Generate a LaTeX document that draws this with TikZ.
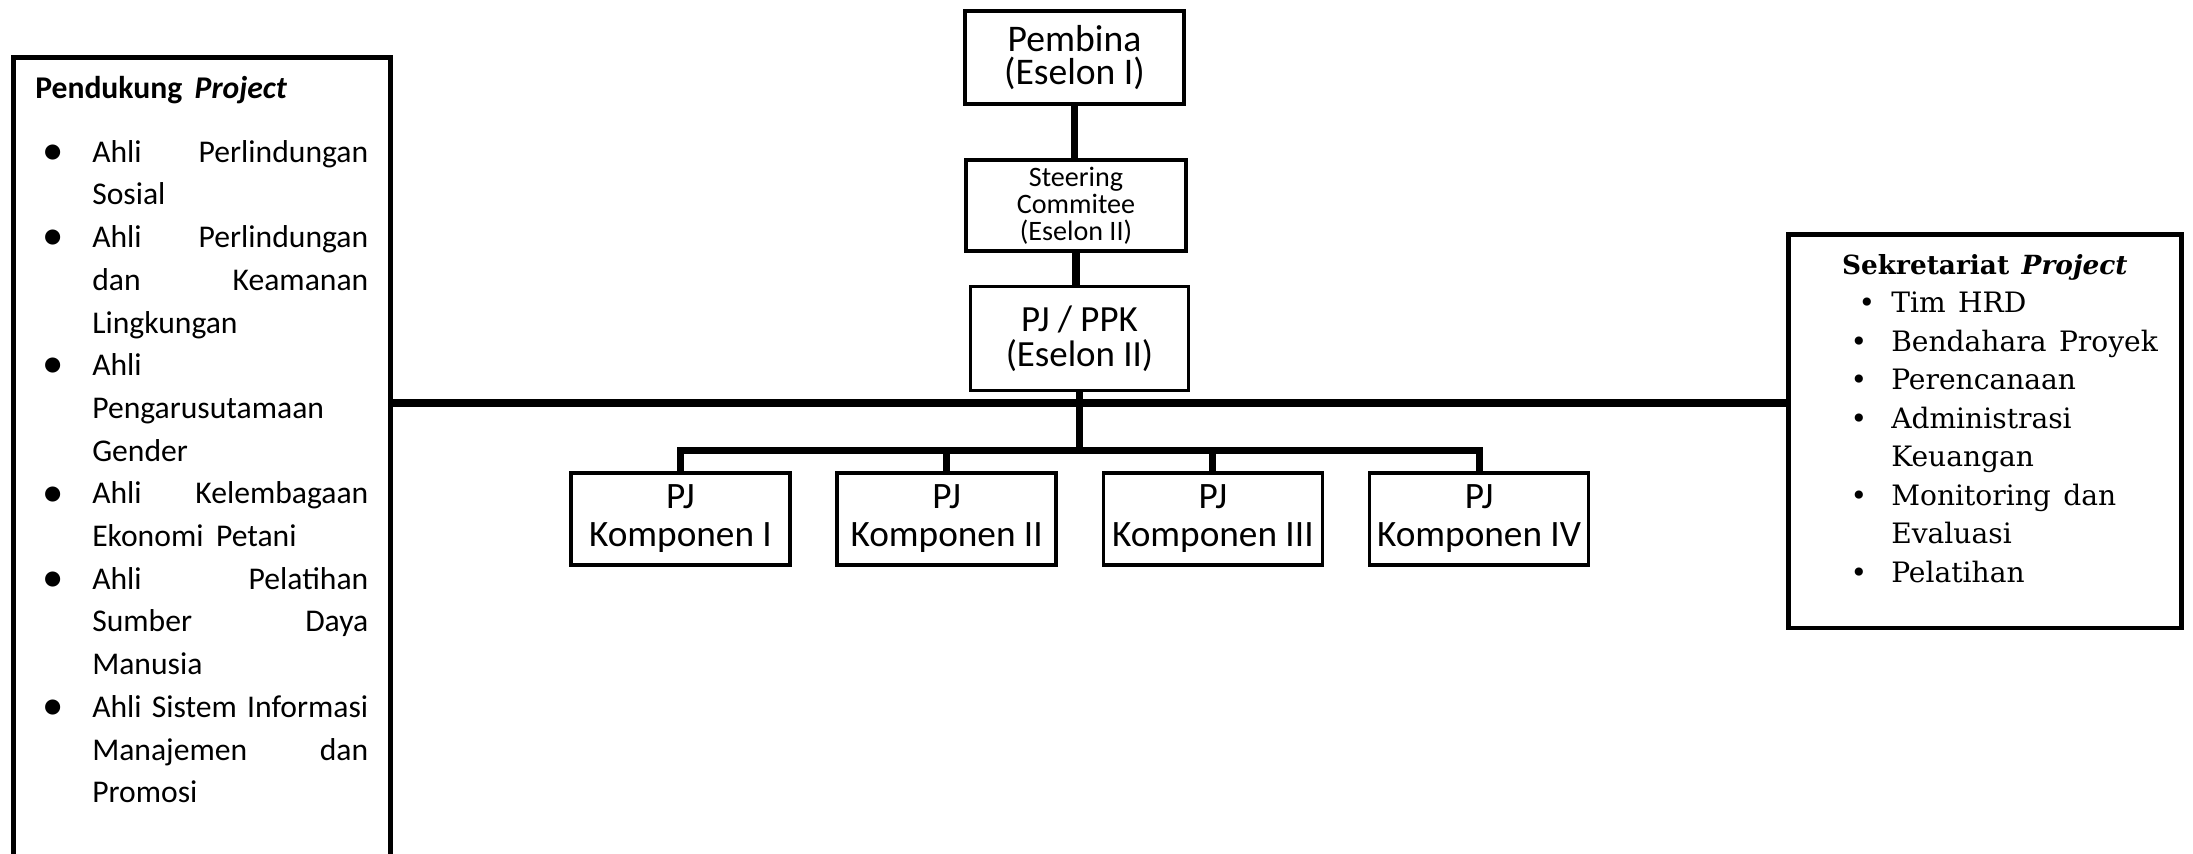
\documentclass[tikz,border=0pt]{standalone}
\usepackage{fontspec}
\setmainfont{Carlito}
\newfontfamily\bookfont{DejaVu Serif}
\usetikzlibrary{positioning}

% justified line, list items, tight line spacing
\newcommand{\spread}[1]{\leavevmode\hbox to 2.76cm{#1}}
\newcommand{\pitem}[1]{\noindent\llap{\raisebox{-0.07em}{\scalebox{1.35}{\textbullet}}\hspace{0.29cm}}#1\par}
\newcommand{\sitem}[2][0.24cm]{\noindent\llap{\textbullet\hspace{#1}}#2\par}
\newcommand{\tightlines}{\setlength{\lineskiplimit}{-1em}}

\begin{document}
\begin{tikzpicture}[
    every node/.style={font=\fontsize{10.7}{9.5}\selectfont\tightlines},
    unit/.style={draw, line width=1.05pt, inner sep=0pt, minimum width=#1, minimum height=0.935cm, align=center},
    unit/.default=2.19cm,
    komp/.style={unit=2.19cm, minimum height=0.92cm, font=\fontsize{10.6}{10.8}\selectfont\tightlines},
    panel/.style={draw, line width=1.3pt, anchor=north west, inner xsep=#1, inner ysep=0.2cm},
    panel/.default=0.2cm,
    link/.style={line width=2pt}
]
    \useasboundingbox (0,0) rectangle (21.93,-8.53);

    % Top chain
    \node[unit] (pembina) at (10.745,-0.575) {Pembina\\(Eselon I)};
    \node[unit=2.2cm, below=0.52cm of pembina, xshift=0.015cm, minimum height=0.91cm, font=\fontsize{8}{7.7}\selectfont\tightlines] (steering) {Steering\\Commitee\\(Eselon II)};
    \node[unit=2.18cm, below=0.32cm of steering, xshift=0.035cm, minimum height=1.04cm, font=\fontsize{10.5}{9.9}\selectfont\tightlines] (pjppk) {PJ / PPK\\(Eselon II)};

    % Komponen row
    \node[komp] (komp1) at (6.805,-5.19) {PJ\\Komponen I};
    \node[komp, right=0.435cm of komp1] (komp2) {PJ\\Komponen II};
    \node[komp, right=0.435cm of komp2] (komp3) {PJ\\Komponen III};
    \node[komp, right=0.435cm of komp3] (komp4) {PJ\\Komponen IV};

    % Pendukung panel
    \node[panel=0.22cm, inner ysep=0.19cm, text width=3.33cm] (pendukung) at (0.11,-0.55) {%
        \fontsize{9}{12.15}\selectfont\parindent=0pt
        \noindent\textbf{Pendukung \textit{Project}}\par
        \vspace{0.21cm}
        \leftskip=0.57cm
        \pitem{\spread{Ahli\hfill Perlindungan}\par Sosial}
        \pitem{\spread{Ahli\hfill Perlindungan}\par\spread{dan\hfill Keamanan}\par Lingkungan}
        \pitem{Ahli\par Pengarusutamaan\par Gender}
        \pitem{\spread{Ahli\hfill Kelembagaan}\par Ekonomi Petani}
        \pitem{\spread{Ahli\hfill Pelatihan}\par\spread{Sumber\hfill Daya}\par Manusia}
        \pitem{\spread{Ahli\hfill Sistem\hfill Informasi}\par\spread{Manajemen\hfill dan}\par Promosi\rule[-1.3cm]{0pt}{1.3cm}}
    };

    % Sekretariat panel
    \node[panel, text width=3.53cm] (sekretariat) at (17.86,-2.32) {%
        \bookfont\fontsize{8}{10.95}\selectfont\parindent=0pt
        {\centering\fontsize{7.5}{10.95}\selectfont\textbf{Sekretariat \textit{Project}}\par}
        \leftskip=0.83cm
        \sitem[0.16cm]{Tim HRD}
        \sitem{Bendahara Proyek}
        \sitem{Perencanaan}
        \sitem{Administrasi\par Keuangan}
        \sitem{Monitoring dan\par Evaluasi}
        \sitem{Pelatihan\rule[-0.26cm]{0pt}{0.26cm}}
    };

    % Connectors
    \coordinate (cross) at ([yshift=-0.105cm]pjppk.south);
    \coordinate (bus) at ([yshift=-0.58cm]pjppk.south);
    \draw[link] (pembina) -- (pembina.south |- steering.north);
    \draw[link] (steering) -- (steering.south |- pjppk.north);
    \draw[link] (pjppk.south) -- (bus);
    \draw[link] (pendukung.east |- cross) -- (sekretariat.west |- cross);
    \draw[link] (komp1.north) |- (bus) -| (komp4.north);
    \draw[link] (komp2.north) -- (komp2.north |- bus);
    \draw[link] (komp3.north) -- (komp3.north |- bus);
\end{tikzpicture}
\end{document}
